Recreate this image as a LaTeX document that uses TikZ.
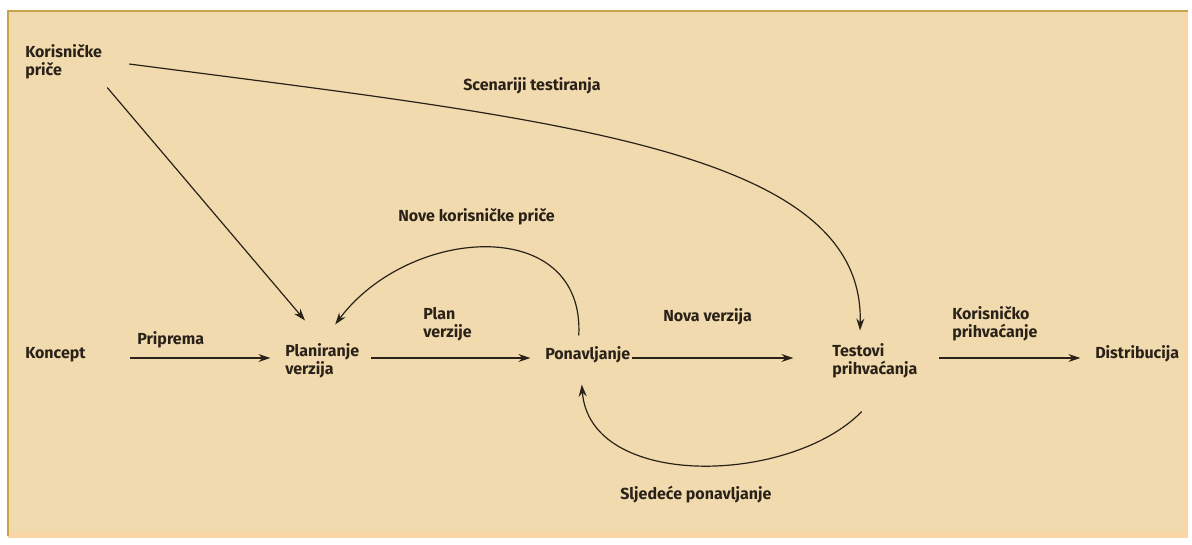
\documentclass[tikz,border=0pt]{standalone}
\usepackage{fontspec}
\setmainfont{Fira Sans}
\usetikzlibrary{arrows.meta}
\definecolor{paper}{HTML}{F1DAAE}
\definecolor{rim}{HTML}{C9A24E}
\definecolor{edge}{HTML}{F8D6A6}
\definecolor{ink}{HTML}{2A2218}

\begin{document}
\begin{tikzpicture}[x=0.75pt,y=-0.75pt,
    lbl/.style={font=\bfseries\fontsize{12}{13.5}\selectfont, text=ink, align=left, inner sep=0pt, anchor=west},
    flow/.style={draw=ink, line width=0.9pt, -{Stealth[length=9pt,width=6pt]}}]

    \useasboundingbox (0,0) rectangle (1192,544);
    \fill[white] (0,0) rectangle (1192,544);
    \fill[edge] (8,10) rectangle (1188,538);
    \fill[paper] (8,10) rectangle (1183,532);
    \draw[rim, line width=2pt] (8,536) -- (8,11) -- (1188,11);

    % labels
    \node[lbl] (stories) at (25,62) {Korisničke\\priče};
    \node[lbl] (koncept) at (25,355) {Koncept};
    \node[lbl] (plan) at (285,361) {Planiranje\\verzija};
    \node[lbl] (pon) at (545,355) {Ponavljanje};
    \node[lbl] (test) at (832,361) {Testovi\\prihvaćanja};
    \node[lbl] (dist) at (1095,354) {Distribucija};

    \node[lbl] (scen) at (463,86) {Scenariji testiranja};
    \node[lbl] (nove) at (398,217) {Nove korisničke priče};
    \node[lbl] (prip) at (137,340) {Priprema};
    \node[lbl] (planv) at (423,324) {Plan\\verzije};
    \node[lbl] (novav) at (663,317) {Nova verzija};
    \node[lbl] (korp) at (952,324) {Korisničko\\prihvaćanje};
    \node[lbl] (sljed) at (620,495) {Sljedeće ponavljanje};

    % straight flow
    \draw[flow, shorten <=33pt, shorten >=11pt] ([shift={(0,3)}]koncept.east) -- ([shift={(0,3)}]koncept.east -| plan.west);
    \draw[flow, shorten <=9pt, shorten >=11pt] ([shift={(0,3)}]pon.west -| plan.east) -- ([shift={(0,3)}]pon.west);
    \draw[flow, shorten <=1pt, shorten >=29pt] ([shift={(0,3)}]pon.east) -- ([shift={(0,3)}]pon.east -| test.west);
    \draw[flow, shorten <=16pt, shorten >=11pt] ([shift={(0,4)}]dist.west -| test.east) -- ([shift={(0,4)}]dist.west);

    % from the stories
    \draw[flow] ([shift={(5,8)}]stories.south east) -- ([shift={(20,-23)}]plan.north west);
    \draw[flow] ([shift={(27,2)}]stories.east)
        .. controls (560,120) and (865,150) .. ([shift={(28,-13)}]test.north west);

    % loops
    \draw[flow] ([shift={(-9,-11)}]pon.north)
        .. controls (585,215) and (410,225) .. ([shift={(13,-19)}]plan.north);
    \draw[flow] ([shift={(-13,33)}]test.south)
        .. controls (790,485) and (590,490) .. ([shift={(-6,21)}]pon.south);

\end{tikzpicture}
\end{document}
